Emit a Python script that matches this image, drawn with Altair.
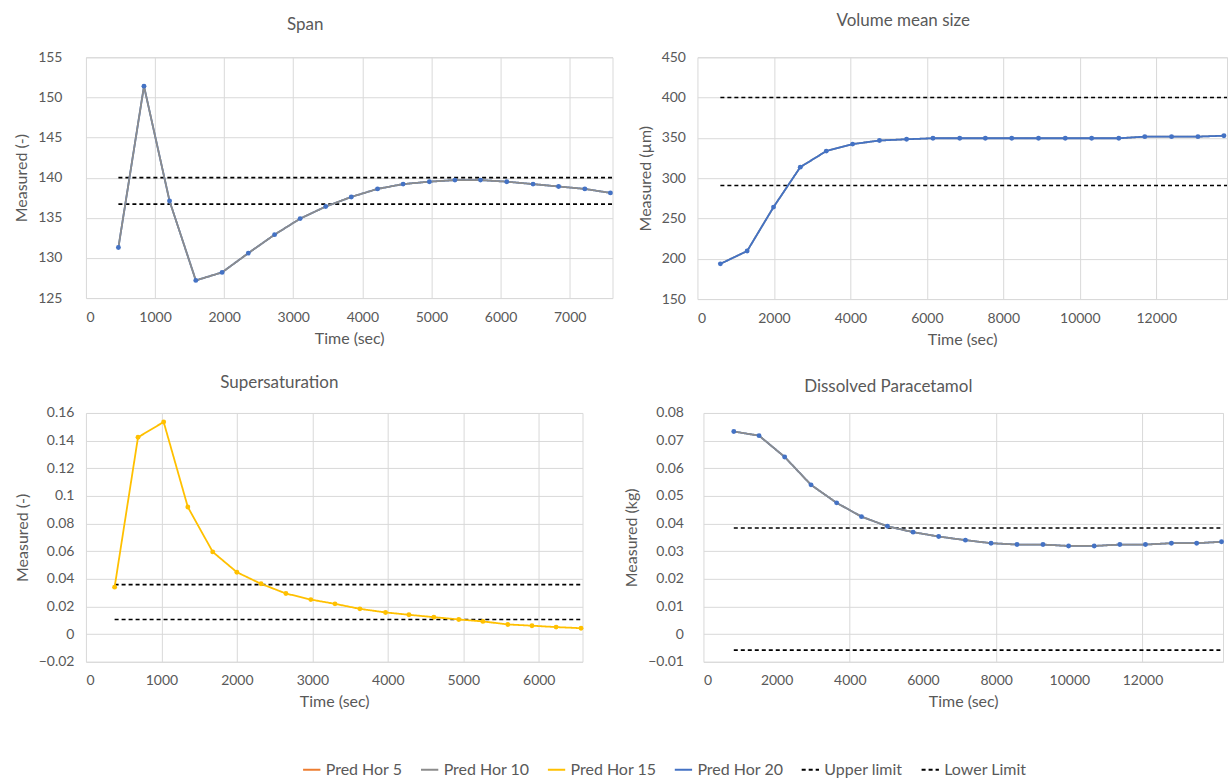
import altair as alt
import pandas as pd

# ---------------- data ----------------
SERIES = ["Pred Hor 5", "Pred Hor 10", "Pred Hor 15", "Pred Hor 20", "Upper limit", "Lower Limit"]
COLORS = ["#ED7D31", "#8C8C8C", "#FFC000", "#4472C4", "#000000", "#000000"]
DASHES = [[1, 0], [1, 0], [1, 0], [1, 0], [4, 3], [4, 3]]

span_time = [470, 840, 1210, 1590, 1970, 2350, 2730, 3100, 3470, 3840,
             4220, 4590, 4970, 5340, 5710, 6090, 6470, 6840, 7220, 7590]
span_value = [131.3, 151.4, 137.1, 127.2, 128.2, 130.6, 132.9, 134.9, 136.4, 137.6,
              138.6, 139.2, 139.5, 139.7, 139.7, 139.5, 139.2, 138.9, 138.6, 138.1]
span_limits = [140.0, 136.7]

vol_time = [600, 1300, 1990, 2690, 3370, 4060, 4760, 5470, 6160, 6860,
            7530, 8220, 8920, 9620, 10310, 11020, 11700, 12400, 13090, 13770]
vol_value = [193.7, 209.6, 264.1, 313.7, 333.6, 342.3, 346.7, 348.3, 349.5, 349.5,
             349.5, 349.5, 349.5, 349.5, 349.5, 349.5, 351.5, 351.5, 351.5, 352.7]
vol_limits = [400.0, 291.0]

sup_time = [380, 690, 1030, 1350, 1680, 2000, 2320, 2650, 2980, 3300,
            3630, 3970, 4280, 4610, 4940, 5260, 5590, 5910, 6230, 6560]
sup_value = [0.034, 0.1424, 0.1535, 0.092, 0.0595, 0.0448, 0.0364, 0.0294, 0.025, 0.0219,
             0.0183, 0.0157, 0.014, 0.0123, 0.0106, 0.0092, 0.007, 0.0061, 0.0051, 0.0043]
sup_limits = [0.0358, 0.0106]

dis_time = [830, 1520, 2220, 2940, 3640, 4320, 5030, 5730, 6430, 7160,
            7860, 8570, 9280, 9980, 10680, 11380, 12080, 12790, 13480, 14160]
dis_value = [0.0733, 0.0718, 0.0641, 0.054, 0.0475, 0.0425, 0.039, 0.0369, 0.0353, 0.034,
             0.0329, 0.0324, 0.0324, 0.0319, 0.0319, 0.0324, 0.0324, 0.0329, 0.0329, 0.0334]
dis_limits = [0.0384, -0.0058]

FONT = "Lato"
GRID = "#d9d9d9"
TXT = "#595959"

legend = alt.Legend(orient="none", legendX=216, legendY=703, direction="horizontal",
                    title=None, symbolType="stroke", symbolStrokeWidth=2, symbolSize=300,
                    labelFontSize=16, labelColor=TXT, labelFont=FONT, columnPadding=14,
                    symbolOffset=0)
color = alt.Color("s:N", scale=alt.Scale(domain=SERIES, range=COLORS), legend=legend)
dash = alt.StrokeDash("s:N", scale=alt.Scale(domain=SERIES, range=DASHES), legend=legend)


def panel(title, t, v, line_series, marker_color, limits, xdom, xstep, xmax_label, grid_test,
          ydom, ystep, yfmt, ytitle, w, h, ylabpad, title_dx, title_offset):
    rows = []
    for s in line_series:
        rows += [{"t": a, "v": b, "s": s} for a, b in zip(t, v)]
    for s, val in zip(["Upper limit", "Lower Limit"], limits):
        rows += [{"t": t[0], "v": val, "s": s}, {"t": xdom[1], "v": val, "s": s}]
    df = pd.DataFrame(rows)
    xvals = list(range(0, xmax_label + 1, xstep))
    n = int(round((ydom[1] - ydom[0]) / ystep))
    yvals = [round(ydom[0] + i * ystep, 4) for i in range(n + 1)]
    x = alt.X("t:Q", scale=alt.Scale(domain=xdom, nice=False, zero=False),
              axis=alt.Axis(values=xvals, format="d", title="Time (sec)", labelPadding=12,
                            titlePadding=6,
                            gridOpacity={"condition": {"test": grid_test, "value": 0}, "value": 1}))
    y = alt.Y("v:Q", scale=alt.Scale(domain=ydom, nice=False, zero=False),
              axis=alt.Axis(values=yvals, format=yfmt, title=ytitle, labelPadding=ylabpad,
                            titlePadding=8))
    base = alt.Chart(df)
    layers = []
    for s in ["Upper limit", "Lower Limit"] + line_series:
        sw = 1.6 if s in ("Upper limit", "Lower Limit") else 1.8
        layers.append(base.transform_filter(alt.datum.s == s)
                      .mark_line(strokeWidth=sw)
                      .encode(x=x, y=y, color=color, strokeDash=dash))
    pts = alt.Chart(pd.DataFrame({"t": t, "v": v})).mark_circle(
        size=24, color=marker_color, opacity=1).encode(x=x, y=y)
    layers.append(pts)
    return alt.layer(*layers).properties(
        width=w, height=h,
        title=alt.TitleParams(title, fontSize=17, fontWeight="normal", color=TXT, font=FONT,
                              anchor="middle", dx=title_dx, offset=title_offset))


span = panel("Span", span_time, span_value, ["Pred Hor 20", "Pred Hor 10"], "#4472C4",
             span_limits, [0, 7620], 1000, 7000, "datum.value == 0",
             [125, 155], 5, "d", "Measured (-)", 527, 241, 24, -44, 16)
vol = panel("Volume mean size", vol_time, vol_value, ["Pred Hor 10", "Pred Hor 20"], "#4472C4",
            vol_limits, [0, 13850], 2000, 12000, "datum.value == 0",
            [150, 450], 50, "d", "Measured (µm)", 530, 242, 12, -59, 20)
sup = panel("Supersaturation", sup_time, sup_value, ["Pred Hor 15"], "#FFC000",
            sup_limits, [0, 6580], 1000, 6000, "datum.value == 0",
            [-0.02, 0.16], 0.02, ".2~f", "Measured (-)", 497, 249, 12, -55, 14)
dis = panel("Dissolved Paracetamol", dis_time, dis_value, ["Pred Hor 20", "Pred Hor 10"], "#4472C4",
            dis_limits, [0, 14200], 2000, 12000, "datum.value % 4000 != 0 || datum.value == 0",
            [-0.01, 0.08], 0.01, ".2~f", "Measured (kg)", 520, 249, 20, -75, 10)

row1 = alt.hconcat(span, vol, spacing=20)
row2 = alt.hconcat(sup, dis, spacing=36)
chart = alt.vconcat(row1, row2, spacing=25).properties(
    padding={"left": 13, "top": 11, "right": 0, "bottom": 0}
).configure(font=FONT).configure_view(stroke=GRID, strokeWidth=1).configure_axis(
    gridColor=GRID, domain=False, ticks=False, labelColor=TXT, titleColor=TXT,
    labelFont=FONT, titleFont=FONT, labelFontSize=14, titleFontSize=16,
    titleFontWeight="normal"
)

chart.save("out.html", embed_options={"renderer": "svg", "actions": False})
